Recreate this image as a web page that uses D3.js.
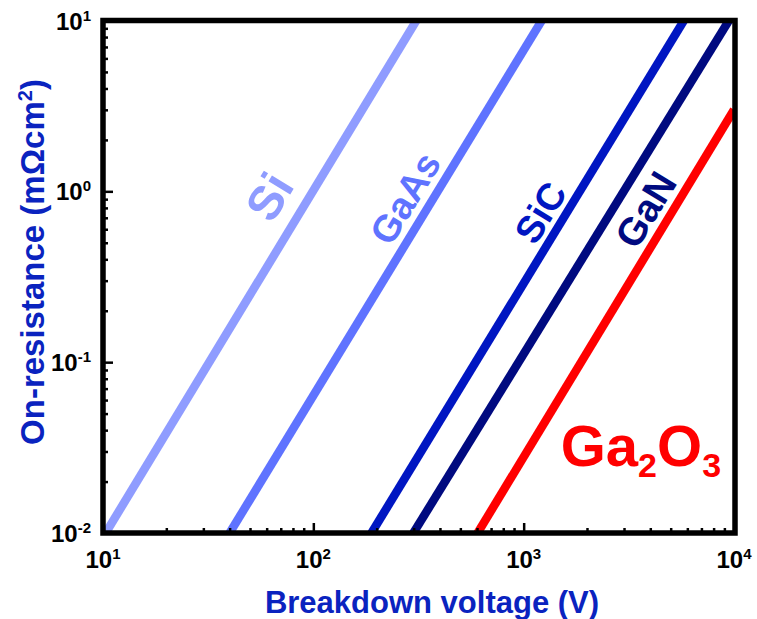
<!DOCTYPE html>
<html>
<head>
<meta charset="utf-8">
<script src="https://cdn.jsdelivr.net/npm/d3@7"></script>
<style>
  body { margin: 0; background: #fff; }
  text { font-family: "Liberation Sans", Arial, sans-serif; font-weight: bold; }
</style>
</head>
<body>
<svg id="chart" width="757" height="619"></svg>
<script>
// Unipolar limit lines: specific on-resistance versus breakdown voltage
const materials = ["Si", "GaAs", "SiC", "GaN", "Ga2O3"];
const voltageStart = [10.3, 40, 189, 299, 604];        // V, at the low end of each line
const resistanceStart = [0.01, 0.01, 0.01, 0.01, 0.01]; // mΩ·cm²
const voltageEnd = [309, 1219, 5780, 9460, 10000];      // V, at the high end of each line
const resistanceEnd = [10, 10, 10, 10, 3.0];            // mΩ·cm²
const xTickExponents = [1, 2, 3, 4];
const yTickExponents = [-2, -1, 0, 1];

const colors = ["#8f9cff", "#5f73ff", "#0016c2", "#000a80", "#ff0000"];
const axisTitleColor = "#0a23bf";

const svg = d3.select("#chart");
const W = 757, H = 619;
const plot = { left: 103, right: 734, top: 20.5, bottom: 533 };

const x = d3.scaleLog().domain([10, 1e4]).range([plot.left, plot.right]);
const y = d3.scaleLog().domain([1e-2, 1e1]).range([plot.bottom, plot.top]);

svg.append("rect").attr("width", W).attr("height", H).attr("fill", "#fff");

svg.append("defs").append("clipPath").attr("id", "plot-clip")
  .append("rect")
  .attr("x", plot.left).attr("y", plot.top)
  .attr("width", plot.right - plot.left).attr("height", plot.bottom - plot.top);

// limit lines
const lines = materials.map((m, i) => ({
  name: m,
  color: colors[i],
  pts: [[voltageStart[i], resistanceStart[i]], [voltageEnd[i], resistanceEnd[i]]]
}));
const lineGen = d3.line().x(d => x(d[0])).y(d => y(d[1]));
svg.append("g").attr("clip-path", "url(#plot-clip)")
  .selectAll("path").data(lines).join("path")
  .attr("d", d => lineGen(d.pts))
  .attr("fill", "none")
  .attr("stroke", d => d.color)
  .attr("stroke-width", 8.5);

// axes: major and minor ticks point into the plot
const minorX = [];
for (let e = 1; e < 4; e++) for (let k = 2; k <= 9; k++) minorX.push(k * Math.pow(10, e));
const minorY = [];
for (let e = -2; e < 1; e++) for (let k = 2; k <= 9; k++) minorY.push(k * Math.pow(10, e));

function styleAxis(g) {
  g.select(".domain").remove();
  g.selectAll(".tick line").attr("stroke", "#000").attr("stroke-width", 2.5);
  g.selectAll(".tick text").remove();
}
svg.append("g").attr("transform", `translate(0,${plot.bottom})`)
  .call(d3.axisBottom(x).tickValues(xTickExponents.map(e => Math.pow(10, e))).tickSize(-10).tickSizeOuter(0))
  .call(styleAxis);
svg.append("g").attr("transform", `translate(0,${plot.bottom})`)
  .call(d3.axisBottom(x).tickValues(minorX).tickSize(-5).tickSizeOuter(0))
  .call(styleAxis);
svg.append("g").attr("transform", `translate(${plot.left},0)`)
  .call(d3.axisLeft(y).tickValues(yTickExponents.map(e => Math.pow(10, e))).tickSize(-10).tickSizeOuter(0))
  .call(styleAxis);
svg.append("g").attr("transform", `translate(${plot.left},0)`)
  .call(d3.axisLeft(y).tickValues(minorY).tickSize(-5).tickSizeOuter(0))
  .call(styleAxis);

// frame
svg.append("rect")
  .attr("x", plot.left).attr("y", plot.top)
  .attr("width", plot.right + 1 - plot.left).attr("height", plot.bottom - plot.top)
  .attr("fill", "none").attr("stroke", "#000").attr("stroke-width", 5.5);

// tick labels as powers of ten
function powerLabel(sel, e) {
  sel.append("tspan").text("10");
  sel.append("tspan").attr("font-size", 15).attr("dy", -9).text(e);
}
xTickExponents.forEach(e => {
  svg.append("text")
    .attr("x", x(Math.pow(10, e))).attr("y", 568)
    .attr("text-anchor", "middle").attr("font-size", 24).attr("fill", "#000")
    .call(powerLabel, e);
});
yTickExponents.forEach(e => {
  svg.append("text")
    .attr("x", plot.left - 12).attr("y", y(Math.pow(10, e)) + 9)
    .attr("text-anchor", "end").attr("font-size", 24).attr("fill", "#000")
    .call(powerLabel, e);
});

// axis titles
svg.append("text")
  .attr("x", 432).attr("y", 613)
  .attr("text-anchor", "middle").attr("font-size", 31).attr("fill", axisTitleColor)
  .text("Breakdown voltage (V)");
const yt = svg.append("text")
  .attr("transform", "translate(44,262) rotate(-90)")
  .attr("text-anchor", "middle").attr("font-size", 33).attr("fill", axisTitleColor);
yt.append("tspan").text("On-resistance (mΩcm");
yt.append("tspan").attr("font-size", 20).attr("dy", -12).text("2");
yt.append("tspan").attr("dy", 12).text(")");

// material labels laid along their lines
const angle = Math.atan2(y(10) - y(0.01), x(voltageEnd[0]) - x(voltageStart[0])) * 180 / Math.PI;
const rotatedLabels = [
  { i: 0, v: 62, r: 0.93, size: 48 },
  { i: 1, v: 274, r: 0.91, size: 38 },
  { i: 2, v: 1205, r: 0.75, size: 38 },
  { i: 3, v: 3810, r: 0.78, size: 39 }
];
rotatedLabels.forEach(l => {
  svg.append("text")
    .attr("transform", `translate(${x(l.v)},${y(l.r)}) rotate(${angle})`)
    .attr("text-anchor", "middle").attr("dominant-baseline", "central")
    .attr("font-size", l.size).attr("fill", colors[l.i])
    .text(materials[l.i]);
});

const ga = svg.append("text")
  .attr("x", x(1500)).attr("y", y(0.0247))
  .attr("font-size", 58).attr("fill", colors[4]);
ga.append("tspan").text("Ga");
ga.append("tspan").attr("font-size", 34).attr("dy", 11).text("2");
ga.append("tspan").attr("dy", -11).text("O");
ga.append("tspan").attr("font-size", 34).attr("dy", 11).text("3");
</script>
</body>
</html>
